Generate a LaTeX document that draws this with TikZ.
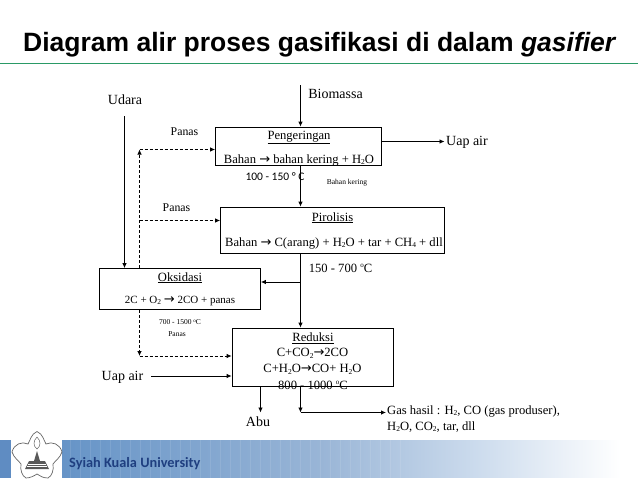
\documentclass[tikz,border=0pt]{standalone}
\usepackage{fontspec}
\usetikzlibrary{arrows.meta}
\setmainfont{Liberation Serif}
\newfontfamily\titlefont{Liberation Sans}
\newfontfamily\dejafont{DejaVu Sans}
\newfontfamily\carlfont{Carlito}
\newcommand{\arr}{{\dejafont\fontsize{13}{14}\selectfont\char"2192}}
\newcommand{\dn}[1]{\raisebox{-0.3ex}{\fontsize{7.5}{8}\selectfont #1}}
\newcommand{\upo}{\raisebox{0.75ex}{\fontsize{7}{8}\selectfont o}}
\definecolor{rulegreen}{HTML}{2A9A66}
\definecolor{footblue}{HTML}{1F3F80}
\definecolor{bandblue}{HTML}{5F8CC2}
\pgfdeclarehorizontalshading{bandshade}{100bp}{
  rgb(0bp)=(0.40,0.58,0.78);
  rgb(25bp)=(0.40,0.58,0.78);
  rgb(47.5bp)=(0.60,0.71,0.84);
  rgb(61bp)=(0.80,0.86,0.93);
  rgb(73.5bp)=(1,1,1);
  rgb(100bp)=(1,1,1)}
\tikzset{
  x=1pt,y=-1pt,
  procbox/.style={draw=black,line width=0.8pt,fill=none,inner sep=0pt,minimum width=#1},
  lbl/.style={anchor=base,inner sep=0pt,font=\fontsize{12.6}{14}\selectfont},
  biglbl/.style={anchor=base,inner sep=0pt,font=\fontsize{14}{15}\selectfont},
  tinylbl/.style={anchor=base,inner sep=0pt,font=\fontsize{7.5}{9}\selectfont},
  flow/.style={draw=black,line width=0.8pt,-{Latex[length=5pt,width=4.5pt]}},
  heat/.style={draw=black,line width=0.8pt,dash pattern=on 3pt off 2pt,-{Latex[length=5pt,width=4.5pt]}},
}
\begin{document}
\begin{tikzpicture}
\useasboundingbox (0,0) rectangle (638,479);
\fill[white] (0,0) rectangle (638,479);
% footer band
\shade[shading=bandshade,shading angle=0] (62,440) rectangle (638,477.5);
\foreach \sx in {70,80,...,400}{\draw[white,opacity=0.10,line width=0.8pt] (\sx,440) -- (\sx,477.5);}
\fill[bandblue] (0,440) rectangle (10.5,477.5);
% logo
\fill[white] (10.5,440) rectangle (62,479);
\draw[gray!80!black,line width=0.7pt,fill=white]
  (37,431.5) .. controls (43,434) and (44,441) .. (46,444)
  .. controls (52,441) and (60,444) .. (62,452)
  .. controls (60,458) and (55,461) .. (53,464)
  .. controls (54,470) and (52,476) .. (48,478)
  .. controls (43,478) and (40,476) .. (37,474)
  .. controls (34,476) and (30,478) .. (26,478)
  .. controls (22,476) and (20,470) .. (21,464)
  .. controls (19,461) and (14,458) .. (12,452)
  .. controls (14,444) and (22,441) .. (28,444)
  .. controls (30,441) and (31,434) .. (37,431.5) -- cycle;
\draw[gray!80!black,line width=0.5pt] (37,437) .. controls (33,441) and (33,446) .. (37,449) .. controls (41,446) and (41,441) .. (37,437);
\fill[gray!70!black] (25,469) -- (29,461) -- (34,461) -- (37,451) -- (40,461) -- (45,461) -- (49,469) -- cycle;
\draw[white,line width=0.4pt] (28,464) -- (46,464) (27,466.5) -- (47,466.5);
\node[anchor=base west,inner sep=0pt,text=footblue,font=\carlfont\bfseries\fontsize{14.3}{16}\selectfont] (univ) at (69,467) {Syiah Kuala University};
% title
\node[anchor=base west,inner sep=0pt,font=\titlefont\bfseries\fontsize{26.5}{30}\selectfont] (title) at (23,52) {Diagram alir proses gasifikasi di dalam \textit{gasifier}};
\draw[rulegreen,line width=1pt] (0,63) -- (638,63);
% boxes
\node[procbox=166pt,minimum height=38pt] (peng) at (298.5,146) {};
\node[procbox=224pt,minimum height=46.5pt] (piro) at (332.5,230.25) {};
\node[procbox=161pt,minimum height=41pt] (oks) at (180,289) {};
\node[procbox=161.5pt,minimum height=58pt] (red) at (312.75,357) {};
% box texts
\node[lbl] (t1) at (299,139) {\underline{Pengeringan}};
\node[lbl] (t2) at (299,163) {Bahan \arr{} bahan kering + H\dn{2}O};
\node[lbl] (t3) at (332.5,221) {\underline{Pirolisis}};
\node[lbl] (t4) at (334,246) {Bahan \arr{} C(arang) + H\dn{2}O + tar + CH\dn{4} + dll};
\node[lbl] (t5) at (180,281) {\underline{Oksidasi}};
\node[lbl,font=\fontsize{11}{13}\selectfont] (t6) at (180,303) {2C + O\dn{2} \arr{} 2CO + panas};
\node[lbl] (t7) at (313,341.5) {\underline{Reduksi}};
\node[lbl] (t8) at (312.5,356.5) {C+CO\dn{2}\arr{}2CO};
\node[lbl] (t9) at (312.5,372.5) {C+H\dn{2}O\arr{}CO+ H\dn{2}O};
\node[lbl] (t10) at (313,389) {800 - 1000 \upo C};
% free labels
\node[biglbl] (biom) at (335.5,98) {Biomassa};
\node[biglbl] (udara) at (125,104) {Udara};
\node[lbl,font=\fontsize{11.8}{13}\selectfont] (panasA) at (184.5,135) {Panas};
\node[lbl,font=\fontsize{11.8}{13}\selectfont] (panasB) at (176.5,211) {Panas};
\node[biglbl,anchor=base west] (uapR) at (446,145) {Uap air};
\node[anchor=base,inner sep=0pt,font=\carlfont\fontsize{11.5}{13}\selectfont] (suhuA) at (275,180) {100 - 150 ° C};
\node[tinylbl] (bk) at (347,184) {Bahan kering};
\node[lbl] (suhuB) at (340.5,272) {150 - 700 \upo C};
\node[tinylbl] (suhuC) at (180,324) {700 - 1500 {\fontsize{5}{6}\selectfont\raisebox{0.7ex}{o}}C};
\node[tinylbl] (panasC) at (177,336) {Panas};
\node[biglbl] (uapL) at (122.5,380) {Uap air};
\node[biglbl] (abu) at (258,426.5) {Abu};
\node[lbl,anchor=base west] (gasA) at (387,414) {Gas hasil : H\dn{2}, CO (gas produser),};
\node[lbl,anchor=base west] (gasB) at (387,430) {H\dn{2}O, CO\dn{2}, tar, dll};
% free ends and junctions
\coordinate (biomS) at (300.5,85);
\coordinate (udaraS) at (124.5,116);
\coordinate (uapLS) at (151,376);
\coordinate (jOks) at (300.5,282);
\coordinate (dashTop) at (139.5,149.5);
\coordinate (dashMid) at (139.5,220.5);
\coordinate (dashBot) at (139.5,356);
\coordinate (uapRE) at (444.5,141.5);
\coordinate (abuE) at (260.5,412.5);
\coordinate (gasCorner) at (300.5,412.5);
\coordinate (gasE) at (386,412.5);
% solid connectors
\draw[flow] (biomS) -- (biomS |- peng.north);
\draw[flow] (biomS |- peng.south) -- (biomS |- piro.north);
\draw[flow] (biomS |- piro.south) -- (biomS |- red.north);
\draw[flow] (jOks) -- (jOks -| oks.east);
\draw[flow] (udaraS) -- (udaraS |- oks.north);
\draw[flow] (peng.east |- uapRE) -- (uapRE);
\draw[flow] (uapLS) -- (uapLS -| red.west);
\draw[flow] (abuE |- red.south) -- (abuE);
\draw[flow] (gasCorner |- red.south) -- (gasCorner);
\draw[flow] (gasCorner) -- (gasE);
% dashed heat connectors
\draw[heat] (dashTop |- oks.north) -- (dashTop);
\draw[heat] (dashTop) -- (dashTop -| peng.west);
\draw[heat] (dashMid) -- (dashMid -| piro.west);
\draw[heat] (dashBot |- oks.south) -- (dashBot);
\draw[heat] (dashBot) -- (dashBot -| red.west);
\end{tikzpicture}
\end{document}
